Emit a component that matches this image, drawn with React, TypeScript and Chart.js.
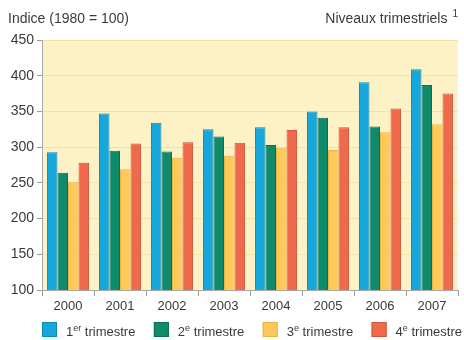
import React, { useEffect, useRef } from "react";
import { Chart, registerables } from "chart.js";

Chart.register(...registerables);

const years = ["2000", "2001", "2002", "2003", "2004", "2005", "2006", "2007"];
const q1 = [293, 347, 334, 325, 328, 350, 391, 409];
const q2 = [264, 295, 294, 315, 303, 341, 329, 387];
const q3 = [251, 269, 285, 288, 299, 296, 321, 332];
const q4 = [278, 305, 307, 306, 324, 328, 354, 375];
const yTicks = [100, 150, 200, 250, 300, 350, 400, 450];

// legend labels: base + superscript part
const legendItems = [
  { base: "1", sup: "er", rest: " trimestre" },
  { base: "2", sup: "e", rest: " trimestre" },
  { base: "3", sup: "e", rest: " trimestre" },
  { base: "4", sup: "e", rest: " trimestre" },
];

const fills = ["#16a8dc", "#0e8b6b", "#fdc95b", "#ef6a4b"];
const borders = ["#0d86b8", "#0a6e54", "#ebb245", "#cf553e"];

const FONT = "'Liberation Sans', Arial, sans-serif";
const TEXT = "#3a3a3a";

const backgroundPlugin = {
  id: "plotBackground",
  beforeDraw(chart: any) {
    const { ctx, chartArea } = chart;
    ctx.save();
    ctx.fillStyle = "#fdf1c6";
    ctx.fillRect(chartArea.left, chartArea.top, chartArea.right - chartArea.left, chartArea.bottom - chartArea.top);
    ctx.restore();
  },
};

const textPlugin = {
  id: "headerAndLegend",
  afterDraw(chart: any) {
    const { ctx, chartArea, width } = chart;
    ctx.save();
    ctx.fillStyle = TEXT;
    ctx.textBaseline = "alphabetic";
    ctx.font = `14px ${FONT}`;
    ctx.textAlign = "left";
    ctx.fillText("Indice (1980 = 100)", 8, 23);

    ctx.textAlign = "right";
    ctx.font = `10px ${FONT}`;
    const supW = ctx.measureText("1").width;
    ctx.fillText("1", width - 6, 17);
    ctx.font = `14px ${FONT}`;
    ctx.fillText("Niveaux trimestriels", width - 11 - supW, 23);

    // legend
    ctx.textAlign = "left";
    const box = 15;
    const gap = 9;
    const widths = legendItems.map((it) => {
      ctx.font = `13px ${FONT}`;
      const a = ctx.measureText(it.base).width + ctx.measureText(it.rest).width;
      ctx.font = `9px ${FONT}`;
      const b = ctx.measureText(it.sup).width;
      return box + gap + a + b;
    });
    const startX = chartArea.left;
    const endX = width - 2;
    const total = widths.reduce((s, w) => s + w, 0);
    const spacing = (endX - startX - total) / (legendItems.length - 1);
    let x = startX;
    const boxTop = 322;
    const baseY = 336;
    legendItems.forEach((it, i) => {
      ctx.fillStyle = fills[i];
      ctx.fillRect(x, boxTop, box, box);
      ctx.strokeStyle = borders[i];
      ctx.lineWidth = 1;
      ctx.strokeRect(x + 0.5, boxTop + 0.5, box - 1, box - 1);
      let tx = x + box + gap;
      ctx.fillStyle = TEXT;
      ctx.font = `13px ${FONT}`;
      ctx.fillText(it.base, tx, baseY);
      tx += ctx.measureText(it.base).width;
      ctx.font = `9px ${FONT}`;
      ctx.fillText(it.sup, tx, baseY - 5);
      tx += ctx.measureText(it.sup).width;
      ctx.font = `13px ${FONT}`;
      ctx.fillText(it.rest, tx, baseY);
      x += widths[i] + spacing;
    });
    ctx.restore();
  },
};

export default function App() {
  const ref = useRef<HTMLCanvasElement | null>(null);

  useEffect(() => {
    document.body.style.margin = "0";
    const canvas = ref.current;
    if (!canvas) return;
    const series = [q1, q2, q3, q4];
    const chart = new Chart(canvas, {
      type: "bar",
      data: {
        labels: years,
        datasets: series.map((d, i) => ({
          label: `${legendItems[i].base}${legendItems[i].sup}${legendItems[i].rest}`,
          data: d,
          backgroundColor: fills[i],
          borderColor: borders[i],
          borderWidth: 1,
          categoryPercentage: 0.81,
          barPercentage: 1.0,
        })),
      },
      options: {
        responsive: false,
        animation: false,
        events: [],
        layout: { padding: { top: 40, right: 6, left: 0, bottom: 0 } },
        plugins: {
          legend: { display: false },
          tooltip: { enabled: false },
          title: { display: false },
        },
        scales: {
          x: {
            grid: {
              offset: true,
              drawOnChartArea: false,
              tickLength: 6,
              tickColor: "#9a9a9a",
            },
            border: { color: "#a8a8a8", width: 1 },
            ticks: {
              color: TEXT,
              font: { family: FONT, size: 13 },
              padding: 3,
            },
            afterFit(scale: any) {
              scale.height = 50;
            },
          },
          y: {
            min: 100,
            max: 450,
            afterBuildTicks(scale: any) {
              scale.ticks = yTicks.map((v) => ({ value: v }));
            },
            grid: {
              color: "#f3e2a6",
              tickLength: 5,
              tickColor: "#9a9a9a",
              drawTicks: true,
            },
            border: { color: "#a8a8a8", width: 1 },
            ticks: {
              color: TEXT,
              font: { family: FONT, size: 14 },
              padding: 3,
            },
            afterFit(scale: any) {
              scale.width = 42;
            },
          },
        },
      },
      plugins: [backgroundPlugin, textPlugin],
    });
    return () => chart.destroy();
  }, []);

  return (
    <div style={{ width: 464, height: 340, background: "#ffffff" }}>
      <canvas ref={ref} width={464} height={340} />
    </div>
  );
}
